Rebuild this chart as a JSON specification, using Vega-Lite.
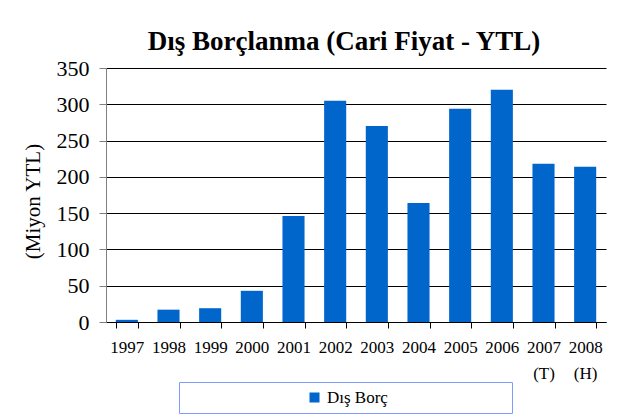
{
  "$schema": "https://vega.github.io/schema/vega-lite/v6.json",
  "width": 500,
  "height": 254,
  "autosize": {"type": "none"},
  "padding": {"left": 106, "top": 68, "right": 26, "bottom": 96},
  "background": "white",
  "title": {
    "text": "Dış Borçlanma (Cari Fiyat - YTL)",
    "font": "Liberation Serif",
    "fontSize": 27,
    "fontWeight": "bold",
    "color": "black",
    "anchor": "middle",
    "dx": -12,
    "offset": 1
  },
  "data": {
    "values": [
      {"year": "1997", "value": 3, "series": "Dış Borç"},
      {"year": "1998", "value": 17, "series": "Dış Borç"},
      {"year": "1999", "value": 19, "series": "Dış Borç"},
      {"year": "2000", "value": 43, "series": "Dış Borç"},
      {"year": "2001", "value": 146, "series": "Dış Borç"},
      {"year": "2002", "value": 305, "series": "Dış Borç"},
      {"year": "2003", "value": 270, "series": "Dış Borç"},
      {"year": "2004", "value": 164, "series": "Dış Borç"},
      {"year": "2005", "value": 294, "series": "Dış Borç"},
      {"year": "2006", "value": 320, "series": "Dış Borç"},
      {"year": "2007 (T)", "value": 218, "series": "Dış Borç"},
      {"year": "2008 (H)", "value": 214, "series": "Dış Borç"}
    ]
  },
  "mark": {"type": "bar"},
  "encoding": {
    "x": {
      "field": "year",
      "type": "nominal",
      "sort": null,
      "scale": {"paddingInner": 0.47, "paddingOuter": 0.235},
      "axis": {
        "title": null,
        "labelAngle": 0,
        "labelExpr": "split(datum.label, ' ')",
        "labelFont": "Liberation Serif",
        "labelFontSize": 17,
        "labelColor": "black",
        "labelLineHeight": 26,
        "labelPadding": 11,
        "labelBaseline": "top",
        "tickBand": "extent",
        "tickColor": "black",
        "tickSize": 6,
        "domainColor": "black",
        "grid": false
      }
    },
    "y": {
      "field": "value",
      "type": "quantitative",
      "scale": {"domain": [0, 350], "nice": false},
      "axis": {
        "title": "(Miyon YTL)",
        "titleFont": "Liberation Serif",
        "titleFontSize": 21,
        "titleFontWeight": "normal",
        "titleColor": "black",
        "titleX": -63,
        "titleY": 133,
        "values": [0, 50, 100, 150, 200, 250, 300, 350],
        "labelFont": "Liberation Serif",
        "labelFontSize": 22,
        "labelColor": "black",
        "labelPadding": 10,
        "tickColor": "#808080",
        "tickSize": 7,
        "domainColor": "#808080",
        "grid": true,
        "gridColor": "black",
        "gridOpacity": 1
      }
    },
    "color": {
      "field": "series",
      "type": "nominal",
      "scale": {"range": ["#0066CC"]},
      "legend": {
        "title": null,
        "orient": "none",
        "legendX": 73,
        "legendY": 314,
        "symbolType": "M-1,-1H1V1H-1Z M38,0L38,0",
        "symbolSize": 100,
        "symbolOpacity": 1,
        "symbolStrokeWidth": 0,
        "symbolOffset": 120,
        "labelOffset": 4,
        "labelFont": "Liberation Serif",
        "labelFontSize": 17,
        "labelColor": "black",
        "strokeColor": "#7F9BFF",
        "fillColor": "white",
        "padding": 7
      }
    }
  },
  "config": {
    "view": {"stroke": null},
    "font": "Liberation Serif"
  }
}
